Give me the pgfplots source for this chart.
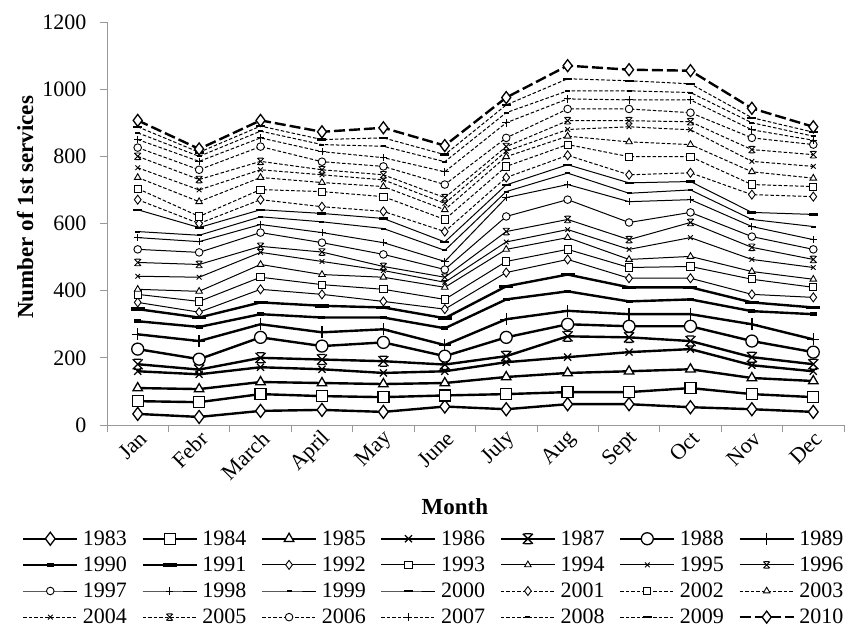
\documentclass[border=0pt]{standalone}
\usepackage{fontspec}
\setmainfont{Liberation Serif}
\usepackage{pgfplots}
\pgfplotsset{compat=1.18}
\usepackage{pgfplotstable}

% Excel "star" marker: an X with bars on top and bottom
\pgfdeclareplotmark{xbar}{%
  \pgfpathmoveto{\pgfqpoint{-\pgfplotmarksize}{-\pgfplotmarksize}}%
  \pgfpathlineto{\pgfqpoint{\pgfplotmarksize}{\pgfplotmarksize}}%
  \pgfpathmoveto{\pgfqpoint{-\pgfplotmarksize}{\pgfplotmarksize}}%
  \pgfpathlineto{\pgfqpoint{\pgfplotmarksize}{-\pgfplotmarksize}}%
  \pgfpathmoveto{\pgfqpoint{-0.7\pgfplotmarksize}{\pgfplotmarksize}}%
  \pgfpathlineto{\pgfqpoint{0.7\pgfplotmarksize}{\pgfplotmarksize}}%
  \pgfpathmoveto{\pgfqpoint{-0.7\pgfplotmarksize}{-\pgfplotmarksize}}%
  \pgfpathlineto{\pgfqpoint{0.7\pgfplotmarksize}{-\pgfplotmarksize}}%
  \pgfusepathqstroke}

% months in rows, one column per year
\pgfplotstableread{
m  y1983 y1984 y1985 y1986 y1987 y1988 y1989 y1990 y1991 y1992 y1993 y1994 y1995 y1996 y1997 y1998 y1999 y2000 y2001 y2002 y2003 y2004 y2005 y2006 y2007 y2008 y2009 y2010
1  33  71  110 160 181 226 270 309 345 365 389 404 443 484 523 558 576 641 671 704 737 766 800 826 850 870 888  907
2  24  68  107 151 165 196 250 292 320 336 368 398 440 478 514 546 565 588 600 621 665 700 731 760 785 800 812  822
3  42  92  128 172 200 261 300 330 365 404 440 478 514 532 573 597 620 641 671 701 737 760 785 829 855 875 890  907
4  45  86  125 166 195 235 276 320 355 389 418 448 487 515 543 573 605 630 650 695 722 745 760 784 814 835 850  873
5  39  83  122 155 190 246 285 320 350 368 404 440 460 472 508 543 585 615 636 680 710 730 745 770 796 830 855  885
6  55  88  125 160 180 205 238 288 318 345 374 410 425 440 463 487 520 545 576 612 641 660 677 716 754 784 805  832
7  47  92  143 187 205 261 315 374 413 454 487 523 545 576 621 677 695 715 737 770 799 815 829 855 900 930 953  975
8  62  98  155 202 264 300 340 398 448 493 523 558 582 612 671 716 750 775 803 835 860 880 906 941 971 995 1031 1070
9  62  98  160 217 261 294 330 368 410 437 469 493 523 552 603 665 690 721 745 799 843 888 906 941 968 995 1025 1058
10 53  110 166 226 250 294 330 374 410 437 472 502 558 603 633 671 700 725 751 799 835 879 903 930 968 990 1016 1055
11 47  92  140 178 202 250 300 339 365 389 434 457 493 529 561 591 612 633 686 716 754 785 820 855 879 900 915  943
12 39  83  131 160 181 217 255 330 350 380 410 434 469 493 523 552 591 627 680 710 735 770 805 835 848 860 872  888
}\services

\pgfplotsset{
  big/.style={black, line width=2.4pt, mark options={solid, fill=white, line width=1.3pt}},
  mid/.style={black, line width=2.4pt, mark options={solid, line width=3.6pt}},
  thn/.style={black, line width=1pt, mark options={solid, fill=white, line width=0.9pt}},
  dsh/.style={thn, dash pattern=on 3.5pt off 2pt},
}

\begin{document}
\begin{tikzpicture}
\useasboundingbox (-107pt,-210pt) rectangle (746pt,425pt);
\begin{axis}[
  scale only axis, width=737pt, height=403pt,
  xmin=0.5, xmax=12.5, ymin=0, ymax=1200,
  xtick={0.5,1.5,...,12.5}, x tick label as interval,
  xticklabels={Jan,Febr,March,April,May,June,July,Aug,Sept,Oct,Nov,Dec},
  ytick={0,200,...,1200},
  axis lines=left, axis line style={-, gray!80, line width=0.8pt},
  tick style={gray!80, line width=0.8pt},
  tick align=outside, major tick length=7pt,
  /pgf/number format/assume math mode=true,
  /pgf/number format/1000 sep={},
  ticklabel style={font=\fontsize{22}{25}\selectfont, black},
  yticklabel style={xshift=-10pt},
  xticklabel style={rotate=45, anchor=east, xshift=5pt, yshift=-6pt},
  xlabel={\textbf{Month}},
  ylabel={\textbf{Number of 1st services}},
  label style={font=\fontsize{23}{27}\selectfont},
  xlabel style={at={(rel axis cs:0.472,-0.203)}, anchor=center},
  ylabel style={at={(rel axis cs:-0.111,0.54)}, anchor=center},
  clip=false,
  legend columns=7,
  legend style={at={(0.443,-0.258)}, anchor=north, draw=none,
    font=\fontsize{22}{24}\selectfont, inner sep=0pt, row sep=7pt,
    nodes={inner sep=1.5pt},
    /tikz/every even column/.append style={column sep=13pt}},
  legend image code/.code={\draw[mark repeat=2,mark phase=2,#1]
    plot coordinates {(0pt,0pt) (27pt,0pt) (54pt,0pt)};
    \path (57pt,0pt);},
]
\addplot[big, mark=diamond*, mark size=6.5pt] table[x=m,y=y1983]{\services}; \addlegendentry{1983}
\addplot[big, mark=square*, mark size=5.5pt] table[x=m,y=y1984]{\services}; \addlegendentry{1984}
\addplot[big, mark=triangle*, mark size=5.5pt] table[x=m,y=y1985]{\services}; \addlegendentry{1985}
\addplot[big, mark=x, mark size=5pt] table[x=m,y=y1986]{\services}; \addlegendentry{1986}
\addplot[big, mark=xbar, mark size=5pt] table[x=m,y=y1987]{\services}; \addlegendentry{1987}
\addplot[big, mark=*, mark size=6pt] table[x=m,y=y1988]{\services}; \addlegendentry{1988}
\addplot[big, mark=+, mark size=6pt] table[x=m,y=y1989]{\services}; \addlegendentry{1989}
\addplot[mid, mark=-, mark size=3.5pt] table[x=m,y=y1990]{\services}; \addlegendentry{1990}
\addplot[mid, mark=-, mark size=7pt] table[x=m,y=y1991]{\services}; \addlegendentry{1991}
\addplot[thn, mark=diamond*, mark size=4.5pt] table[x=m,y=y1992]{\services}; \addlegendentry{1992}
\addplot[thn, mark=square*, mark size=3.6pt] table[x=m,y=y1993]{\services}; \addlegendentry{1993}
\addplot[thn, mark=triangle*, mark size=3.8pt] table[x=m,y=y1994]{\services}; \addlegendentry{1994}
\addplot[thn, mark=x, mark size=3.3pt] table[x=m,y=y1995]{\services}; \addlegendentry{1995}
\addplot[thn, mark=xbar, mark size=3.3pt] table[x=m,y=y1996]{\services}; \addlegendentry{1996}
\addplot[thn, mark=*, mark size=3.8pt] table[x=m,y=y1997]{\services}; \addlegendentry{1997}
\addplot[thn, mark=+, mark size=3.8pt] table[x=m,y=y1998]{\services}; \addlegendentry{1998}
\addplot[thn, mark=-, mark size=2.5pt, mark options={solid, line width=2pt}] table[x=m,y=y1999]{\services}; \addlegendentry{1999}
\addplot[thn, mark=-, mark size=4.5pt, mark options={solid, line width=2.4pt}] table[x=m,y=y2000]{\services}; \addlegendentry{2000}
\addplot[dsh, mark=diamond*, mark size=4.5pt] table[x=m,y=y2001]{\services}; \addlegendentry{2001}
\addplot[dsh, mark=square*, mark size=3.6pt] table[x=m,y=y2002]{\services}; \addlegendentry{2002}
\addplot[dsh, mark=triangle*, mark size=3.8pt] table[x=m,y=y2003]{\services}; \addlegendentry{2003}
\addplot[dsh, mark=x, mark size=3.3pt] table[x=m,y=y2004]{\services}; \addlegendentry{2004}
\addplot[dsh, mark=xbar, mark size=3.3pt] table[x=m,y=y2005]{\services}; \addlegendentry{2005}
\addplot[dsh, mark=*, mark size=3.8pt] table[x=m,y=y2006]{\services}; \addlegendentry{2006}
\addplot[dsh, mark=+, mark size=3.8pt] table[x=m,y=y2007]{\services}; \addlegendentry{2007}
\addplot[dsh, mark=-, mark size=2.5pt, mark options={solid, line width=2pt}] table[x=m,y=y2008]{\services}; \addlegendentry{2008}
\addplot[dsh, mark=-, mark size=4.5pt, mark options={solid, line width=2.4pt}] table[x=m,y=y2009]{\services}; \addlegendentry{2009}
\addplot[big, dash pattern=on 11pt off 4pt, mark=diamond*, mark size=6pt] table[x=m,y=y2010]{\services}; \addlegendentry{2010}
\end{axis}
\end{tikzpicture}
\end{document}
